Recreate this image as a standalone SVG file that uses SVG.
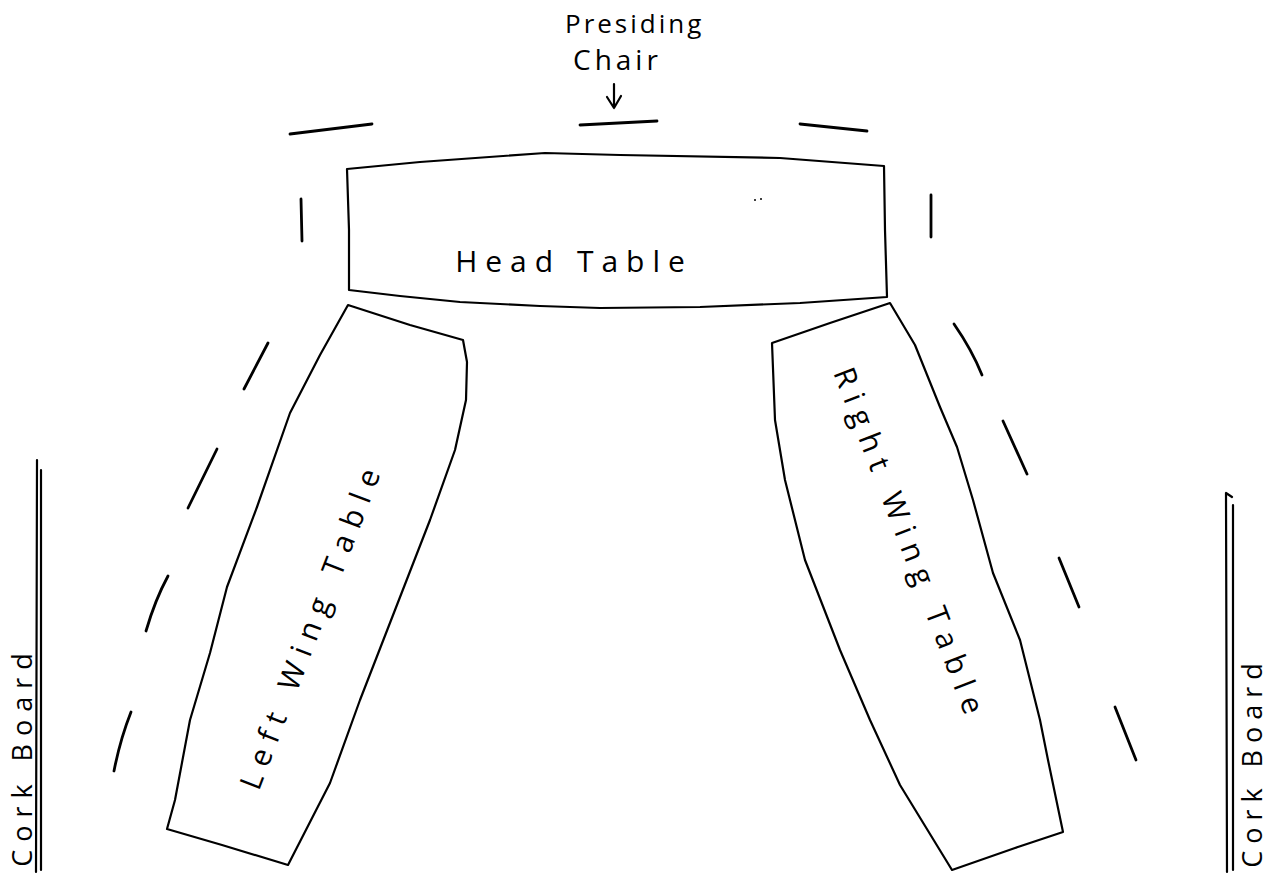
<svg xmlns="http://www.w3.org/2000/svg" width="1277" height="877" viewBox="0 0 1277 877">
<defs>
<style>
.ln{fill:none;stroke:#000;stroke-width:2.2;stroke-linecap:round;stroke-linejoin:round}
.ch{fill:none;stroke:#000;stroke-width:2.8;stroke-linecap:round}
.tx{font-family:"Open Sans","Liberation Sans",sans-serif;font-weight:400;fill:#000}
</style>
</defs>
<rect width="1277" height="877" fill="#fff"/>

<g id="presiding-chair-label">
<text class="tx" x="565" y="33" font-size="26" letter-spacing="3">Presiding</text>
<text class="tx" x="573" y="70" font-size="28" letter-spacing="4">Chair</text>
<path class="ln" d="M614,84 L614,108 M607,97 L614,108 L621,96"/>
</g>

<g id="head-table">
<path class="ln" d="M347,169 L420,162 L545,153 L620,155 L780,158 L884,166 L885,230 L887,297 L800,303 L700,307 L600,308 L540,306 L460,302 L400,296 L349,290 L349,230 Z"/>
<text class="tx" x="574" y="272" font-size="30" letter-spacing="8" text-anchor="middle">Head Table</text>
<circle cx="755" cy="200" r="1" fill="#000"/>
<circle cx="761" cy="199" r="1" fill="#000"/>
</g>

<g id="left-wing-table">
<path class="ln" d="M348,305 L410,325 L463,340 L467,362 L466,400 L455,450 L430,520 L395,610 L360,700 L330,783 L288,865 L222,845 L167,829 L175,800 L190,720 L210,653 L227,587 L257,507 L290,413 L320,355 Z"/>
<text class="tx" transform="translate(312,625) rotate(-69)" x="0" y="10" font-size="30" letter-spacing="9" text-anchor="middle">Left Wing Table</text>
</g>

<g id="right-wing-table">
<path class="ln" d="M772,343 L830,323 L890,303 L915,345 L940,407 L957,447 L973,500 L993,573 L1020,640 L1040,720 L1048,760 L1063,832 L1015,848 L952,870 L900,785 L870,720 L840,650 L805,560 L785,480 L775,420 Z"/>
<text class="tx" transform="translate(910,545) rotate(69)" x="0" y="10" font-size="30" letter-spacing="9" text-anchor="middle">Right Wing Table</text>
</g>

<g id="chairs">
<path class="ch" d="M290,134 L372,124"/>
<path class="ch" d="M580,125 L657,121"/>
<path class="ch" d="M800,124 L867,131"/>
<path class="ch" d="M301,199 L302,241"/>
<path class="ch" d="M931,195 L931,237"/>
<path class="ch" d="M268,343 L244,389"/>
<path class="ch" d="M217,449 L188,508"/>
<path class="ch" d="M168,576 Q155,600 146,631"/>
<path class="ch" d="M131,712 Q120,740 114,771"/>
<path class="ch" d="M954,324 Q972,350 982,375"/>
<path class="ch" d="M1003,421 L1027,474"/>
<path class="ch" d="M1059,558 L1079,607"/>
<path class="ch" d="M1115,707 L1136,760"/>
</g>

<g id="left-cork-board">
<path class="ln" d="M37,460 L36,872"/>
<path class="ln" d="M41,470 L41,870" stroke-width="1.5"/>
<text class="tx" transform="translate(32,756) rotate(-90)" x="0" y="0" font-size="27" letter-spacing="8" text-anchor="middle">Cork  Board</text>
</g>

<g id="right-cork-board">
<path class="ln" d="M1226,493 L1227,872 M1226,493 L1232,497"/>
<path class="ln" d="M1233,505 L1233,870" stroke-width="1.5"/>
<text class="tx" transform="translate(1262,762) rotate(-90)" x="0" y="0" font-size="27" letter-spacing="7" text-anchor="middle">Cork  Board</text>
</g>
</svg>
